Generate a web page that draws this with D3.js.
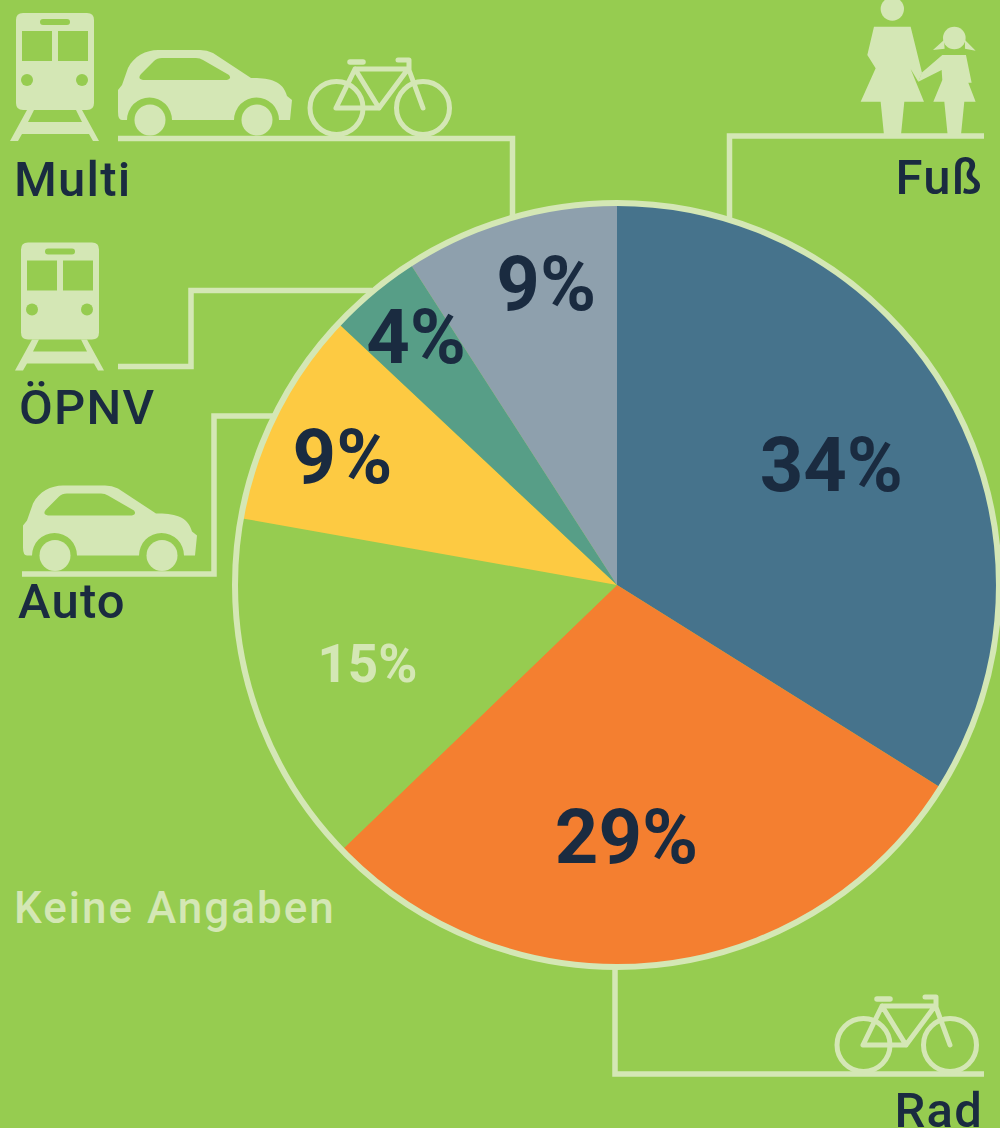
<!DOCTYPE html>
<html><head><meta charset="utf-8">
<script src="https://cdn.jsdelivr.net/npm/d3@7/dist/d3.min.js"></script>
<style>html,body{margin:0;padding:0;background:#96cc50}svg{display:block}text{font-family:Roboto,sans-serif}</style>
</head><body><svg id="c" width="1000" height="1128"></svg>
<script>
// data
const categories = ["Fuß","Rad","Keine Angaben","Auto","ÖPNV","Multi"];
const values = [33.9,28.9,15,9.2,3.9,9.1];
const valueLabels = ["34%","29%","15%","9%","4%","9%"];
const sliceColors = ["#46738c","#f47f30","#96cc50","#fdca42","#579e87","#8ea0ad"];
const labelColors = ["#1a2b40","#1a2b40","#d4e7b5","#1a2b40","#1a2b40","#1a2b40"];
// layout
const labelRadius = [245,254,262,302,318,308];
const labelAngleNudge = [0,3.8,-0.8,-2,0.6,3.1];
const BG="#96cc50", LIGHT="#d4e7b5", NAVY="#1a2b40";
const svg=d3.select("#c");
svg.append("rect").attr("width",1000).attr("height",1128).attr("fill",BG);

// connectors
const conn=[
 [[118,138.5],[512.5,138.5],[512.5,216]],
 [[984,136],[729.5,136],[729.5,220]],
 [[615,966],[615,1074],[984,1074]],
 [[118,366.5],[191,366.5],[191,290.5],[372,290.5]],
 [[22,574],[214,574],[214,416],[274,416]]
];
svg.append("g").selectAll("path").data(conn).join("path")
 .attr("d",d3.line()).attr("fill","none").attr("stroke",LIGHT).attr("stroke-width",5.5);

// pie
const cx=617,cy=585,R=382;
const pie=d3.pie().sort(null).value(d=>d)(values);
const arc=d3.arc().innerRadius(0).outerRadius(R);
const g=svg.append("g").attr("transform",`translate(${cx},${cy})`);
g.selectAll("path").data(pie).join("path").attr("d",arc).attr("fill",(d,i)=>sliceColors[i]);
g.append("circle").attr("r",R).attr("fill","none").attr("stroke",LIGHT).attr("stroke-width",6);
g.selectAll("text").data(pie).join("text")
 .attr("transform",(d,i)=>{
   const a=(d.startAngle+d.endAngle)/2+labelAngleNudge[i]*Math.PI/180;
   return `translate(${labelRadius[i]*Math.sin(a)},${-labelRadius[i]*Math.cos(a)})`;})
 .attr("text-anchor","middle").attr("dy","0.32em")
 .attr("fill",(d,i)=>labelColors[i])
 .attr("font-weight",700).attr("font-size",(d,i)=>i===2?53:76)
 .text((d,i)=>valueLabels[i]);

// icons
const defs=svg.append("defs");
const train=defs.append("g").attr("id","train").attr("fill",LIGHT);
train.append("path").attr("fill-rule","evenodd").attr("d",
 "M23,13H87Q94,13 94,20V103Q94,110 87,110H23Q16,110 16,103V20Q16,13 23,13Z"+
 "M43,19H67Q70,19 70,22Q70,25 67,25H43Q40,25 40,22Q40,19 43,19Z"+
 "M22,31H52V61H22Z M58,31H88V61H58Z");
train.selectAll("circle").data([27,82]).join("circle").attr("cx",d=>d).attr("cy",80).attr("r",6).attr("fill",BG);
train.append("path").attr("fill-rule","evenodd").attr("d",
 "M27,110L10,141H18L22,134H89L93,141H99L82,110Z M34,110H76L82,122H28Z");

const car=defs.append("g").attr("id","car").attr("fill",LIGHT);
car.append("path").attr("fill-rule","evenodd").attr("d",
 "M118,90L122,85L128,68C134,56 146,50 158,50H200Q207,50 213,53L251,78C268,78 283,80 287,96L292,100L290,120H279A22.5,22.5 0 0 0 234,120H172A22.5,22.5 0 0 0 127,120H122Q118,120 118,112Z"+
 "M143,80H227Q232,79 229,75L203,60Q200,58 196,58H162Q157,58 154,61L141,74Q137,79 143,80Z");
car.selectAll("circle").data([150,257]).join("circle").attr("cx",d=>d).attr("cy",120).attr("r",15.5);

const bike=defs.append("g").attr("id","bike").attr("fill","none").attr("stroke",LIGHT).attr("stroke-width",5).attr("stroke-linecap","round").attr("stroke-linejoin","round");
bike.selectAll("circle").data([336.5,423]).join("circle").attr("cx",d=>d).attr("cy",108).attr("r",26.5);
bike.append("path").attr("d","M336,108H379L355,69L336,108M355,69H408L379,108M398,60H409V70L423,108");
bike.append("path").attr("d","M350,62H363").attr("stroke-width",5.5);

const walkers=svg.append("g").attr("transform","translate(720,0) scale(0.3333)").attr("fill",LIGHT);
walkers.append("circle").attr("cx",517).attr("cy",27).attr("r",35);
walkers.append("path").attr("d","M462,80H572L606,218L595,245L572,207L612,305H553L543,405H492L482,305H422L467,205L442,165Z");
walkers.append("circle").attr("cx",703).attr("cy",114).attr("r",34);
walkers.append("path").attr("d","M672,120L639,150L674,146Z M735,120L767,152L735,146Z");
walkers.append("path").attr("d","M667,165H738L755,248H745L767,305H733L723,405H683L673,305H640L667,240L665,210L595,245L605,218Z");

[["#train",0,0],["#car",0,0],["#bike",0,0],["#train",5,229.5],["#car",-95,435.5],["#bike",527,937]].forEach(u=>{
 svg.append("use").attr("href",u[0]).attr("x",u[1]).attr("y",u[2]);
});

// category labels
const catLabels=[
 {t:"Multi",x:14,y:196,a:"start",c:NAVY},
 {t:"ÖPNV",x:19,y:424,a:"start",c:NAVY},
 {t:"Auto",x:18,y:618,a:"start",c:NAVY},
 {t:"Fuß",x:983,y:194,a:"end",c:NAVY},
 {t:"Rad",x:983,y:1127,a:"end",c:NAVY},
 {t:"Keine Angaben",x:14,y:923,a:"start",c:LIGHT}
];
svg.append("g").selectAll("text").data(catLabels).join("text")
 .attr("x",d=>d.x).attr("y",d=>d.y).attr("text-anchor",d=>d.a).attr("fill",d=>d.c)
 .attr("font-weight",500).attr("letter-spacing",d=>d.t==="Keine Angaben"?2:1.2)
 .attr("font-size",d=>d.t==="Keine Angaben"?44:49).text(d=>d.t);
</script></body></html>
